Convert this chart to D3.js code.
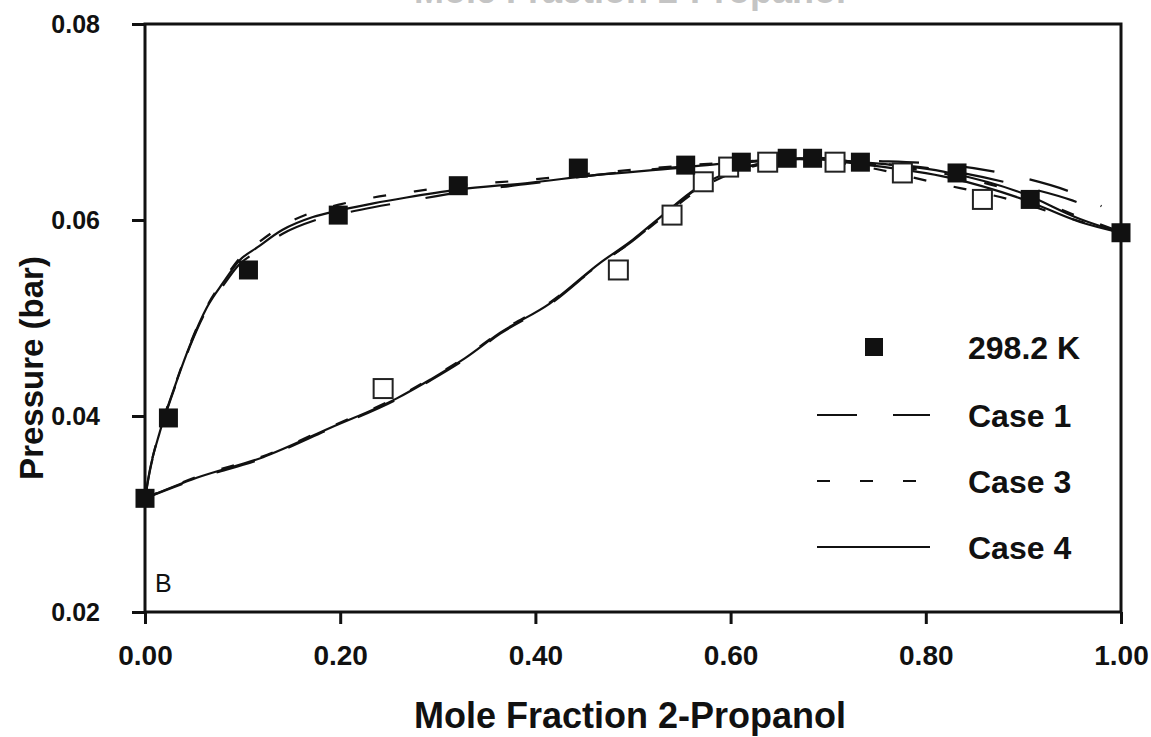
<!DOCTYPE html>
<html>
<head>
<meta charset="utf-8">
<script src="https://cdn.jsdelivr.net/npm/d3@7"></script>
<style>
  html, body { margin: 0; padding: 0; background: #fff; }
  svg { display: block; font-family: "Liberation Sans", Arial, sans-serif; }
</style>
</head>
<body>
<svg id="chart" width="1151" height="737"></svg>
<script>
// ---------------- data ----------------
const xTicks = [0, 0.2, 0.4, 0.6, 0.8, 1.0];
const yTicks = [0.02, 0.04, 0.06, 0.08];
const xTitle = "Mole Fraction 2-Propanol";
const yTitle = "Pressure (bar)";
const panelLabel = "B";
const legendLabels = ["298.2 K", "Case 1", "Case 3", "Case 4"];

// experimental liquid (filled) points: [x, P]
const liquidPts = [
  [0.000, 0.0316], [0.024, 0.0398], [0.106, 0.0549], [0.198, 0.0605],
  [0.321, 0.0635], [0.444, 0.0653], [0.554, 0.0656], [0.611, 0.0659],
  [0.658, 0.0663], [0.684, 0.0663], [0.733, 0.0659], [0.832, 0.0648],
  [0.907, 0.0621], [1.000, 0.0587]
];
// experimental vapour (open) points: [y, P]
const vapourPts = [
  [0.244, 0.0428], [0.485, 0.0549], [0.540, 0.0605], [0.572, 0.0639],
  [0.598, 0.0654], [0.638, 0.0659], [0.707, 0.0659], [0.776, 0.0648],
  [0.858, 0.0621]
];

// model curves
const case4Bubble = [
  [0,0.0316],[0.005,0.0345],[0.015,0.0383],[0.033,0.0437],[0.046,0.0472],
  [0.0635,0.0511],[0.08,0.0536],[0.097,0.0559],[0.115,0.0572],[0.141,0.0590],
  [0.172,0.0603],[0.2,0.0610],[0.234,0.0617],[0.268,0.0623],[0.32,0.0631],
  [0.394,0.0638],[0.463,0.0646],[0.545,0.0653],[0.586,0.0657],[0.633,0.0660],
  [0.671,0.0663],[0.733,0.0659],[0.825,0.0648],[0.9,0.0627],[0.958,0.0601],[1.0,0.0587]
];
const case4Dew = [
  [0,0.0316],[0.053,0.0337],[0.121,0.0358],[0.19,0.0388],[0.258,0.0418],
  [0.292,0.0437],[0.328,0.0459],[0.364,0.0485],[0.415,0.0515],[0.466,0.0556],
  [0.5,0.0580],[0.528,0.0603],[0.566,0.0633],[0.599,0.0649],[0.633,0.0658],
  [0.671,0.0663],[0.733,0.0657],[0.825,0.0643],[0.9,0.0621],[0.958,0.0598],[1.0,0.0587]
];
const case1Bubble = [
  [0,0.0316],[0.005,0.0344],[0.015,0.0382],[0.033,0.0436],[0.046,0.0471],
  [0.0635,0.0509],[0.08,0.0533],[0.097,0.0555],[0.115,0.0568],[0.141,0.0586],
  [0.172,0.0599],[0.2,0.0606],[0.234,0.0613],[0.268,0.0619],[0.32,0.0628],
  [0.394,0.0637],[0.463,0.0646],[0.545,0.0654],[0.586,0.0657],[0.633,0.0661],
  [0.671,0.0664],[0.733,0.0661],[0.825,0.0656],[0.9,0.0643],[0.95,0.0628],[0.98,0.0614]
];
const case1Dew = [
  [0,0.0316],[0.053,0.0336],[0.121,0.0357],[0.19,0.0387],[0.258,0.0417],
  [0.292,0.0436],[0.328,0.0458],[0.364,0.0484],[0.415,0.0514],[0.466,0.0555],
  [0.5,0.0579],[0.528,0.0602],[0.566,0.0632],[0.599,0.0648],[0.633,0.0658],
  [0.671,0.0663],[0.733,0.0659],[0.825,0.0650],[0.9,0.0634],[0.95,0.0620],[0.98,0.0608]
];
const case3Bubble = [
  [0,0.0316],[0.005,0.0345],[0.015,0.0384],[0.033,0.0438],[0.046,0.0473],
  [0.0635,0.0512],[0.08,0.0538],[0.097,0.0561],[0.115,0.0576],[0.141,0.0594],
  [0.172,0.0608],[0.2,0.0616],[0.234,0.0623],[0.268,0.0628],[0.32,0.0635],
  [0.394,0.0641],[0.463,0.0648],[0.545,0.0655],[0.586,0.0658],[0.633,0.0661],
  [0.671,0.0663],[0.733,0.0658],[0.825,0.0646],[0.9,0.0626],[0.958,0.0603],[1.0,0.0588]
];
const case3Dew = [
  [0,0.0316],[0.053,0.0338],[0.121,0.0359],[0.19,0.0389],[0.258,0.0419],
  [0.292,0.0438],[0.328,0.0460],[0.364,0.0486],[0.415,0.0516],[0.466,0.0555],
  [0.5,0.0579],[0.528,0.0601],[0.566,0.0630],[0.599,0.0647],[0.633,0.0657],
  [0.671,0.0662],[0.733,0.0655],[0.81,0.0638],[0.9,0.0617],[0.94,0.0604],[1.0,0.0587]
];

// ---------------- drawing ----------------
const svg = d3.select("#chart");
const pLeft = 145, pRight = 1121, pTop = 24, pBottom = 612;
const x = d3.scaleLinear().domain([0, 1]).range([pLeft, pRight]);
const y = d3.scaleLinear().domain([0.02, 0.08]).range([pBottom, pTop]);

// title, cut off at the top edge as in the reference
svg.append("text").attr("x", 630).attr("y", 3)
  .attr("text-anchor", "middle").attr("font-size", 36).attr("font-weight", "bold")
  .attr("fill", "#c4c4c4").text(xTitle);

const line = d3.line().x(d => x(d[0])).y(d => y(d[1])).curve(d3.curveMonotoneX);
const curves = [
  {data: case4Bubble, dash: null}, {data: case4Dew, dash: null},
  {data: case1Bubble, dash: "40,36"}, {data: case1Dew, dash: "40,36"},
  {data: case3Bubble, dash: "13,28"}, {data: case3Dew, dash: "13,28"}
];
svg.append("g").selectAll("path").data(curves).join("path")
  .attr("d", d => line(d.data))
  .attr("fill", "none").attr("stroke", "#111").attr("stroke-width", 2.2)
  .attr("stroke-dasharray", d => d.dash);

// axes
const xAxis = d3.axisBottom(x).tickValues(xTicks).tickFormat(d3.format(".2f"))
  .tickSize(12).tickPadding(21);
const gx = svg.append("g").attr("transform", `translate(0,${pBottom})`).call(xAxis);
const yAxis = d3.axisLeft(y).tickValues(yTicks).tickFormat(d3.format(".2f"))
  .tickSize(13).tickPadding(32);
const gy = svg.append("g").attr("transform", `translate(${pLeft},0)`).call(yAxis);
[gx, gy].forEach(g => {
  g.select(".domain").remove();
  g.selectAll(".tick line").attr("stroke", "#111").attr("stroke-width", 3);
  g.selectAll(".tick text").attr("fill", "#111").attr("font-weight", "bold")
    .attr("font-family", "Liberation Sans, Arial, sans-serif");
});
gx.selectAll(".tick text").attr("font-size", 28);
gy.selectAll(".tick text").attr("font-size", 25).attr("dy", "0.35em");

// frame
svg.append("rect").attr("x", pLeft).attr("y", pTop)
  .attr("width", pRight - pLeft).attr("height", pBottom - pTop)
  .attr("fill", "none").attr("stroke", "#111").attr("stroke-width", 3);

// markers
const s = 19;
svg.append("g").selectAll("rect").data(vapourPts).join("rect")
  .attr("x", d => x(d[0]) - s / 2).attr("y", d => y(d[1]) - s / 2)
  .attr("width", s).attr("height", s)
  .attr("fill", "#fff").attr("stroke", "#222").attr("stroke-width", 2);
svg.append("g").selectAll("rect").data(liquidPts).join("rect")
  .attr("x", d => x(d[0]) - s / 2).attr("y", d => y(d[1]) - s / 2)
  .attr("width", s).attr("height", s).attr("fill", "#111");

// axis titles
svg.append("text").attr("x", 630).attr("y", 728)
  .attr("text-anchor", "middle").attr("font-size", 36).attr("font-weight", "bold")
  .attr("fill", "#111").text(xTitle);
svg.append("text").attr("transform", "translate(43,368) rotate(-90)")
  .attr("text-anchor", "middle").attr("font-size", 33).attr("font-weight", "bold")
  .attr("fill", "#111").text(yTitle);

// panel label
svg.append("text").attr("x", 155).attr("y", 592)
  .attr("font-size", 25).attr("fill", "#111").text(panelLabel);

// legend
const lg = svg.append("g");
const rows = [
  {label: legendLabels[0], type: "marker", yy: 347},
  {label: legendLabels[1], type: "line", dash: "40,36", yy: 415},
  {label: legendLabels[2], type: "line", dash: "13,30", yy: 481},
  {label: legendLabels[3], type: "line", dash: null, yy: 547}
];
rows.forEach(r => {
  if (r.type === "marker") {
    lg.append("rect").attr("x", 874 - 9).attr("y", r.yy - 9)
      .attr("width", 18).attr("height", 18).attr("fill", "#111");
  } else {
    lg.append("line").attr("x1", 817).attr("x2", 930).attr("y1", r.yy).attr("y2", r.yy)
      .attr("stroke", "#111").attr("stroke-width", 2).attr("stroke-dasharray", r.dash);
  }
  lg.append("text").attr("x", 968).attr("y", r.yy).attr("dy", "0.36em")
    .attr("font-size", 32).attr("font-weight", "bold").attr("fill", "#111").text(r.label);
});
</script>
</body>
</html>
